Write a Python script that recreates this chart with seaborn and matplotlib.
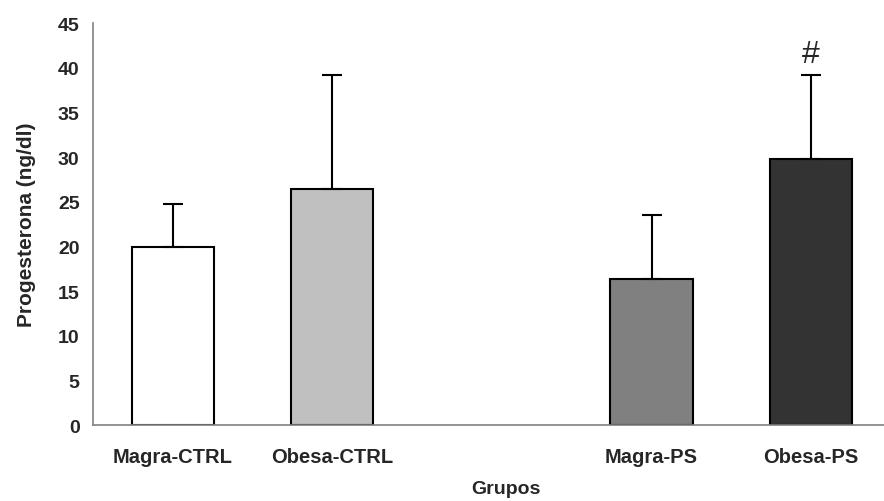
import numpy as np
import pandas as pd
import matplotlib
matplotlib.use("Agg")
import matplotlib.pyplot as plt
import seaborn as sns

# data
grupos = ["Magra-CTRL", "Obesa-CTRL", "Magra-PS", "Obesa-PS"]
orden = ["Magra-CTRL", "Obesa-CTRL", " ", "Magra-PS", "Obesa-PS"]
media = [19.9, 26.4, 16.4, 29.8]
erro = [4.8, 12.8, 7.1, 9.4]
cores = ["#ffffff", "#c0c0c0", "#808080", "#333333"]
marca = ["", "", "", "#"]

sns.set_style("white")
plt.rcParams["font.family"] = ["Liberation Sans", "DejaVu Sans"]

df = pd.DataFrame({"grupo": grupos, "valor": media})

fig = plt.figure(figsize=(8.84, 5.02), dpi=100)
ax = fig.add_axes([0.105, 0.151, 0.903, 0.801])

sns.barplot(data=df, x="grupo", y="valor", order=orden, hue="grupo",
            palette=dict(zip(grupos, cores)), width=0.515,
            edgecolor="black", linewidth=1.5, legend=False, ax=ax)

pos = [orden.index(g) for g in grupos]
ax.errorbar(pos, media, yerr=[np.zeros(len(erro)), erro], fmt="none",
            ecolor="black", elinewidth=1.5, capsize=7, capthick=1.5)

for p, m, e, s in zip(pos, media, erro, marca):
    if s:
        ax.text(p, m + e + 0.7, s, ha="center", va="bottom", fontsize=23)

ax.set_ylim(0, 45)
ax.set_xlim(-0.5, 4.5)
ax.set_yticks(range(0, 46, 5))
ax.set_xticks(np.arange(-0.5, 4.6, 1.0))
ax.set_xticklabels([])
ax.set_xticks(range(5), minor=True)
ax.set_xticklabels(orden, minor=True, fontweight="bold", fontsize=14.5)
ax.tick_params(axis="x", which="minor", length=0, pad=16)
ax.tick_params(axis="x", which="major", length=4.5, width=1, color="#808080", direction="out")
ax.tick_params(axis="y", length=4.5, width=1, color="#808080", direction="out", pad=5, labelsize=14)
for t in ax.get_yticklabels():
    t.set_fontweight("bold")

for side in ["top", "right"]:
    ax.spines[side].set_visible(False)
for side in ["left", "bottom"]:
    ax.spines[side].set_color("#808080")
    ax.spines[side].set_linewidth(1.2)

ax.set_xlabel("Grupos", fontweight="bold", fontsize=14, labelpad=10)
ax.xaxis.label.set_x(0.518)
ax.set_ylabel("Progesterona (ng/dl)", fontweight="bold", fontsize=15, labelpad=16)

fig.savefig("out.png", dpi=100)
